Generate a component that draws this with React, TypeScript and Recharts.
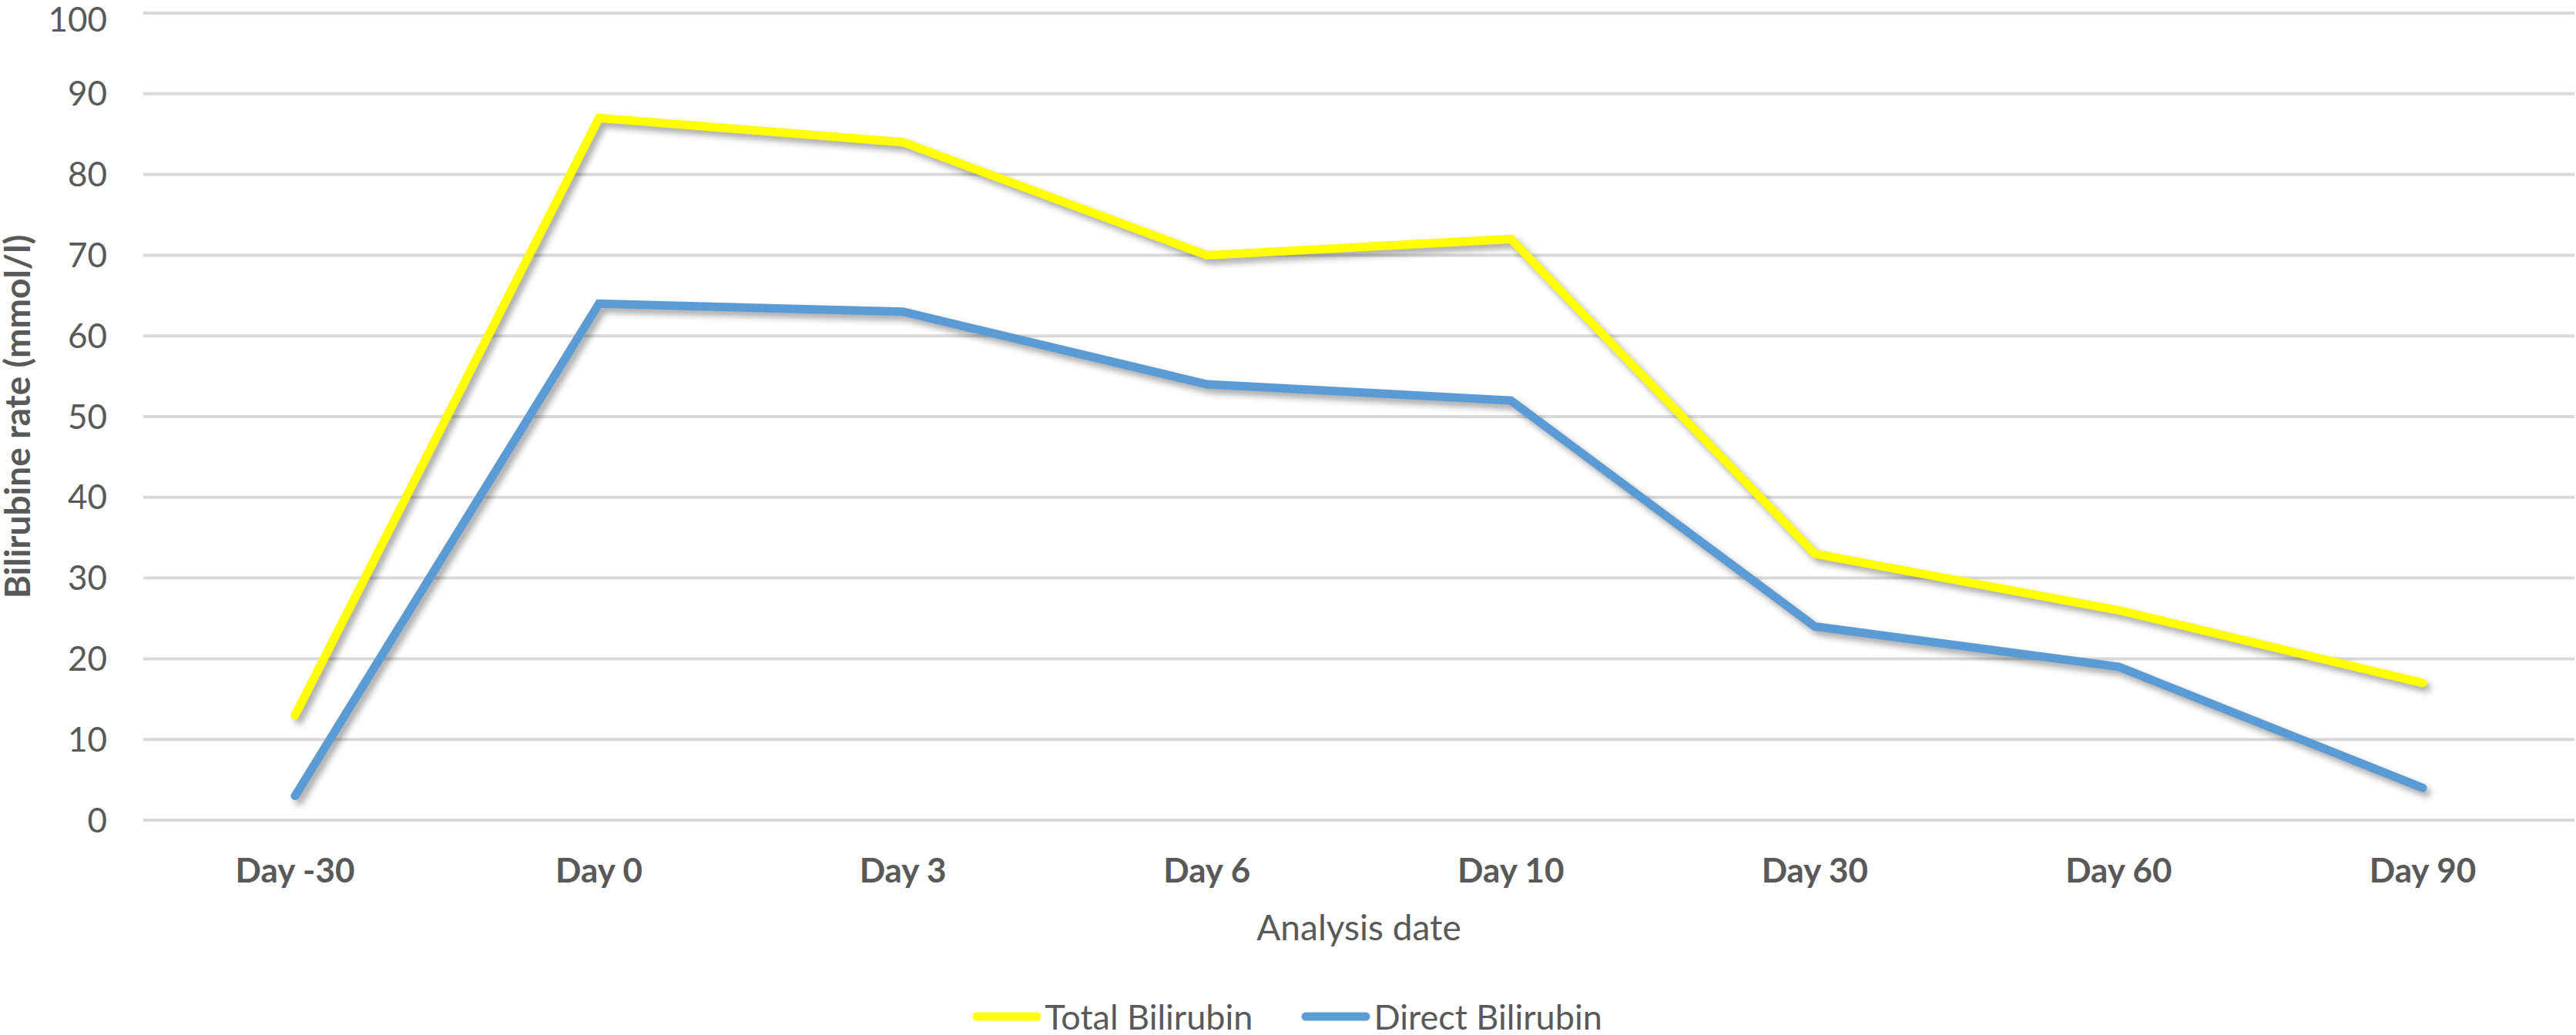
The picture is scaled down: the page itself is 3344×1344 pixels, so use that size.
import { LineChart, Line, XAxis, YAxis, CartesianGrid, Legend } from "recharts"

const categories = ["Day -30", "Day 0", "Day 3", "Day 6", "Day 10", "Day 30", "Day 60", "Day 90"]
const totalBilirubin = [13, 87, 84, 70, 72, 33, 26, 17]
const directBilirubin = [3, 64, 63, 54, 52, 24, 19, 4]
const yTicks = [0, 10, 20, 30, 40, 50, 60, 70, 80, 90, 100]
const seriesNames = ["Total Bilirubin", "Direct Bilirubin"]

const FONT = "Lato, 'Open Sans', sans-serif"
const TEXT = "#595959"

const chartData = categories.map((day, i) => ({
  day,
  total: totalBilirubin[i],
  direct: directBilirubin[i],
}))

function LegendContent({ payload }: any) {
  // keep the series order instead of the alphabetical one
  const items = [...(payload || [])].sort(
    (a: any, b: any) => seriesNames.indexOf(a.value) - seriesNames.indexOf(b.value)
  )
  return (
    <div
      style={{
        display: "flex",
        justifyContent: "center",
        alignItems: "center",
        height: 44,
        fontFamily: FONT,
        fontSize: 45,
        color: TEXT,
      }}
    >
      {items.map((entry: any, i: number) => (
        <div key={entry.value} style={{ display: "flex", alignItems: "center", marginLeft: i > 0 ? 63 : 0 }}>
          <svg width={90} height={14}>
            <line x1={6} y1={7} x2={84} y2={7} stroke={entry.color} strokeWidth={11} strokeLinecap="round" />
          </svg>
          <span style={{ marginLeft: 4, lineHeight: "44px" }}>{entry.value}</span>
        </div>
      ))}
    </div>
  )
}

export default function App() {
  return (
    <div style={{ position: "absolute", left: 0, top: 0, width: 3344, height: 1344, background: "#fff" }}>
      <style>{`.recharts-line-curve { filter: drop-shadow(5px 6px 4px rgba(0,0,0,0.35)); }`}</style>
      <LineChart width={3344} height={1344} data={chartData} margin={{ top: 17, right: 2, bottom: 2, left: 0 }}>
        <CartesianGrid vertical={false} stroke="#d9d9d9" strokeWidth={4} />
        <XAxis
          dataKey="day"
          height={233}
          padding={{ left: 197, right: 197 }}
          axisLine={false}
          tickLine={false}
          tickSize={0}
          tickMargin={50}
          interval={0}
          tick={{ fill: TEXT, fontSize: 44, fontWeight: 700, fontFamily: FONT }}
          label={{
            value: "Analysis date",
            position: "insideBottom",
            offset: 77,
            fill: TEXT,
            fontSize: 46,
            fontFamily: FONT,
          }}
        />
        <YAxis
          domain={[0, 100]}
          ticks={yTicks}
          width={186}
          axisLine={false}
          tickLine={false}
          tickSize={0}
          tickMargin={47}
          tick={{ fill: TEXT, fontSize: 44, fontFamily: FONT }}
          label={{
            value: "Bilirubine rate (mmol/l)",
            angle: -90,
            position: "insideLeft",
            offset: 23,
            fill: TEXT,
            fontSize: 46,
            fontWeight: 700,
            fontFamily: FONT,
            style: { textAnchor: "middle" },
          }}
        />
        <Legend verticalAlign="bottom" content={<LegendContent />} />
        <Line
          type="linear"
          dataKey="total"
          name="Total Bilirubin"
          stroke="#ffff00"
          strokeWidth={11}
          strokeLinecap="round"
          dot={false}
          activeDot={false}
          isAnimationActive={false}
        />
        <Line
          type="linear"
          dataKey="direct"
          name="Direct Bilirubin"
          stroke="#5b9bd5"
          strokeWidth={11}
          strokeLinecap="round"
          dot={false}
          activeDot={false}
          isAnimationActive={false}
        />
      </LineChart>
    </div>
  )
}
